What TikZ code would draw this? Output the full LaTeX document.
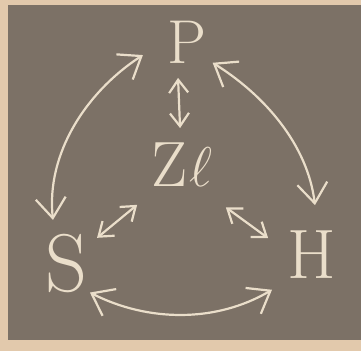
\RequirePackage{fix-cm}
\documentclass[tikz,border=0pt]{standalone}
\usetikzlibrary{arrows.meta}
\definecolor{slateBoard}{RGB}{124,113,102}
\definecolor{paperEdge}{RGB}{226,201,172}
\definecolor{chalkLine}{RGB}{234,222,202}

\begin{document}
\begin{tikzpicture}[x=1pt,y=1pt,
    letter/.style={text=chalkLine, inner sep=0pt},
    link/.style={draw=chalkLine, line width=2.2pt, line cap=round,
      >={Straight Barb[length=20pt,width=30pt]}, <->},
    shortlink/.style={link, >={Straight Barb[length=13pt,width=19pt]}}
  ]
  % board
  \fill[paperEdge] (0,0) rectangle (361,351);
  \fill[slateBoard] (8,11) rectangle (361,346);
  \useasboundingbox (0,0) rectangle (361,351);

  % letters
  \node[letter, font=\fontsize{62}{62}\selectfont] (P) at (187,309) {P};
  \node[letter, font=\fontsize{64}{64}\selectfont] (Zl) at (182,186) {Z\kern2pt{\fontsize{56}{56}\selectfont$\ell$}};
  \node[letter, font=\fontsize{82}{82}\selectfont] (S) at (66,88) {S};
  \node[letter, font=\fontsize{70}{70}\selectfont] (H) at (312,96) {H};

  % outer ring
  \draw[link] ([shift={(196.5:46)}]P.center) .. controls +(213:67) and +(96:67) .. ([shift={(106.8:45)}]S.center);
  \draw[link] ([shift={(321:33)}]P.center) .. controls +(328:61) and +(97:61) .. ([shift={(86.6:50)}]H.center);
  \draw[link] ([shift={(309:38)}]S.center) .. controls +(333:65) and +(210.6:65) .. ([shift={(221:53)}]H.center);

  % spokes to the centre
  \draw[shortlink] ([shift={(256:37)}]P.center) -- ([shift={(93:37)}]Zl.center);
  \draw[shortlink] ([shift={(221.6:60)}]Zl.center) -- ([shift={(39:40)}]S.center);
  \draw[shortlink] ([shift={(316:61)}]Zl.center) -- ([shift={(159:47)}]H.center);
\end{tikzpicture}
\end{document}
